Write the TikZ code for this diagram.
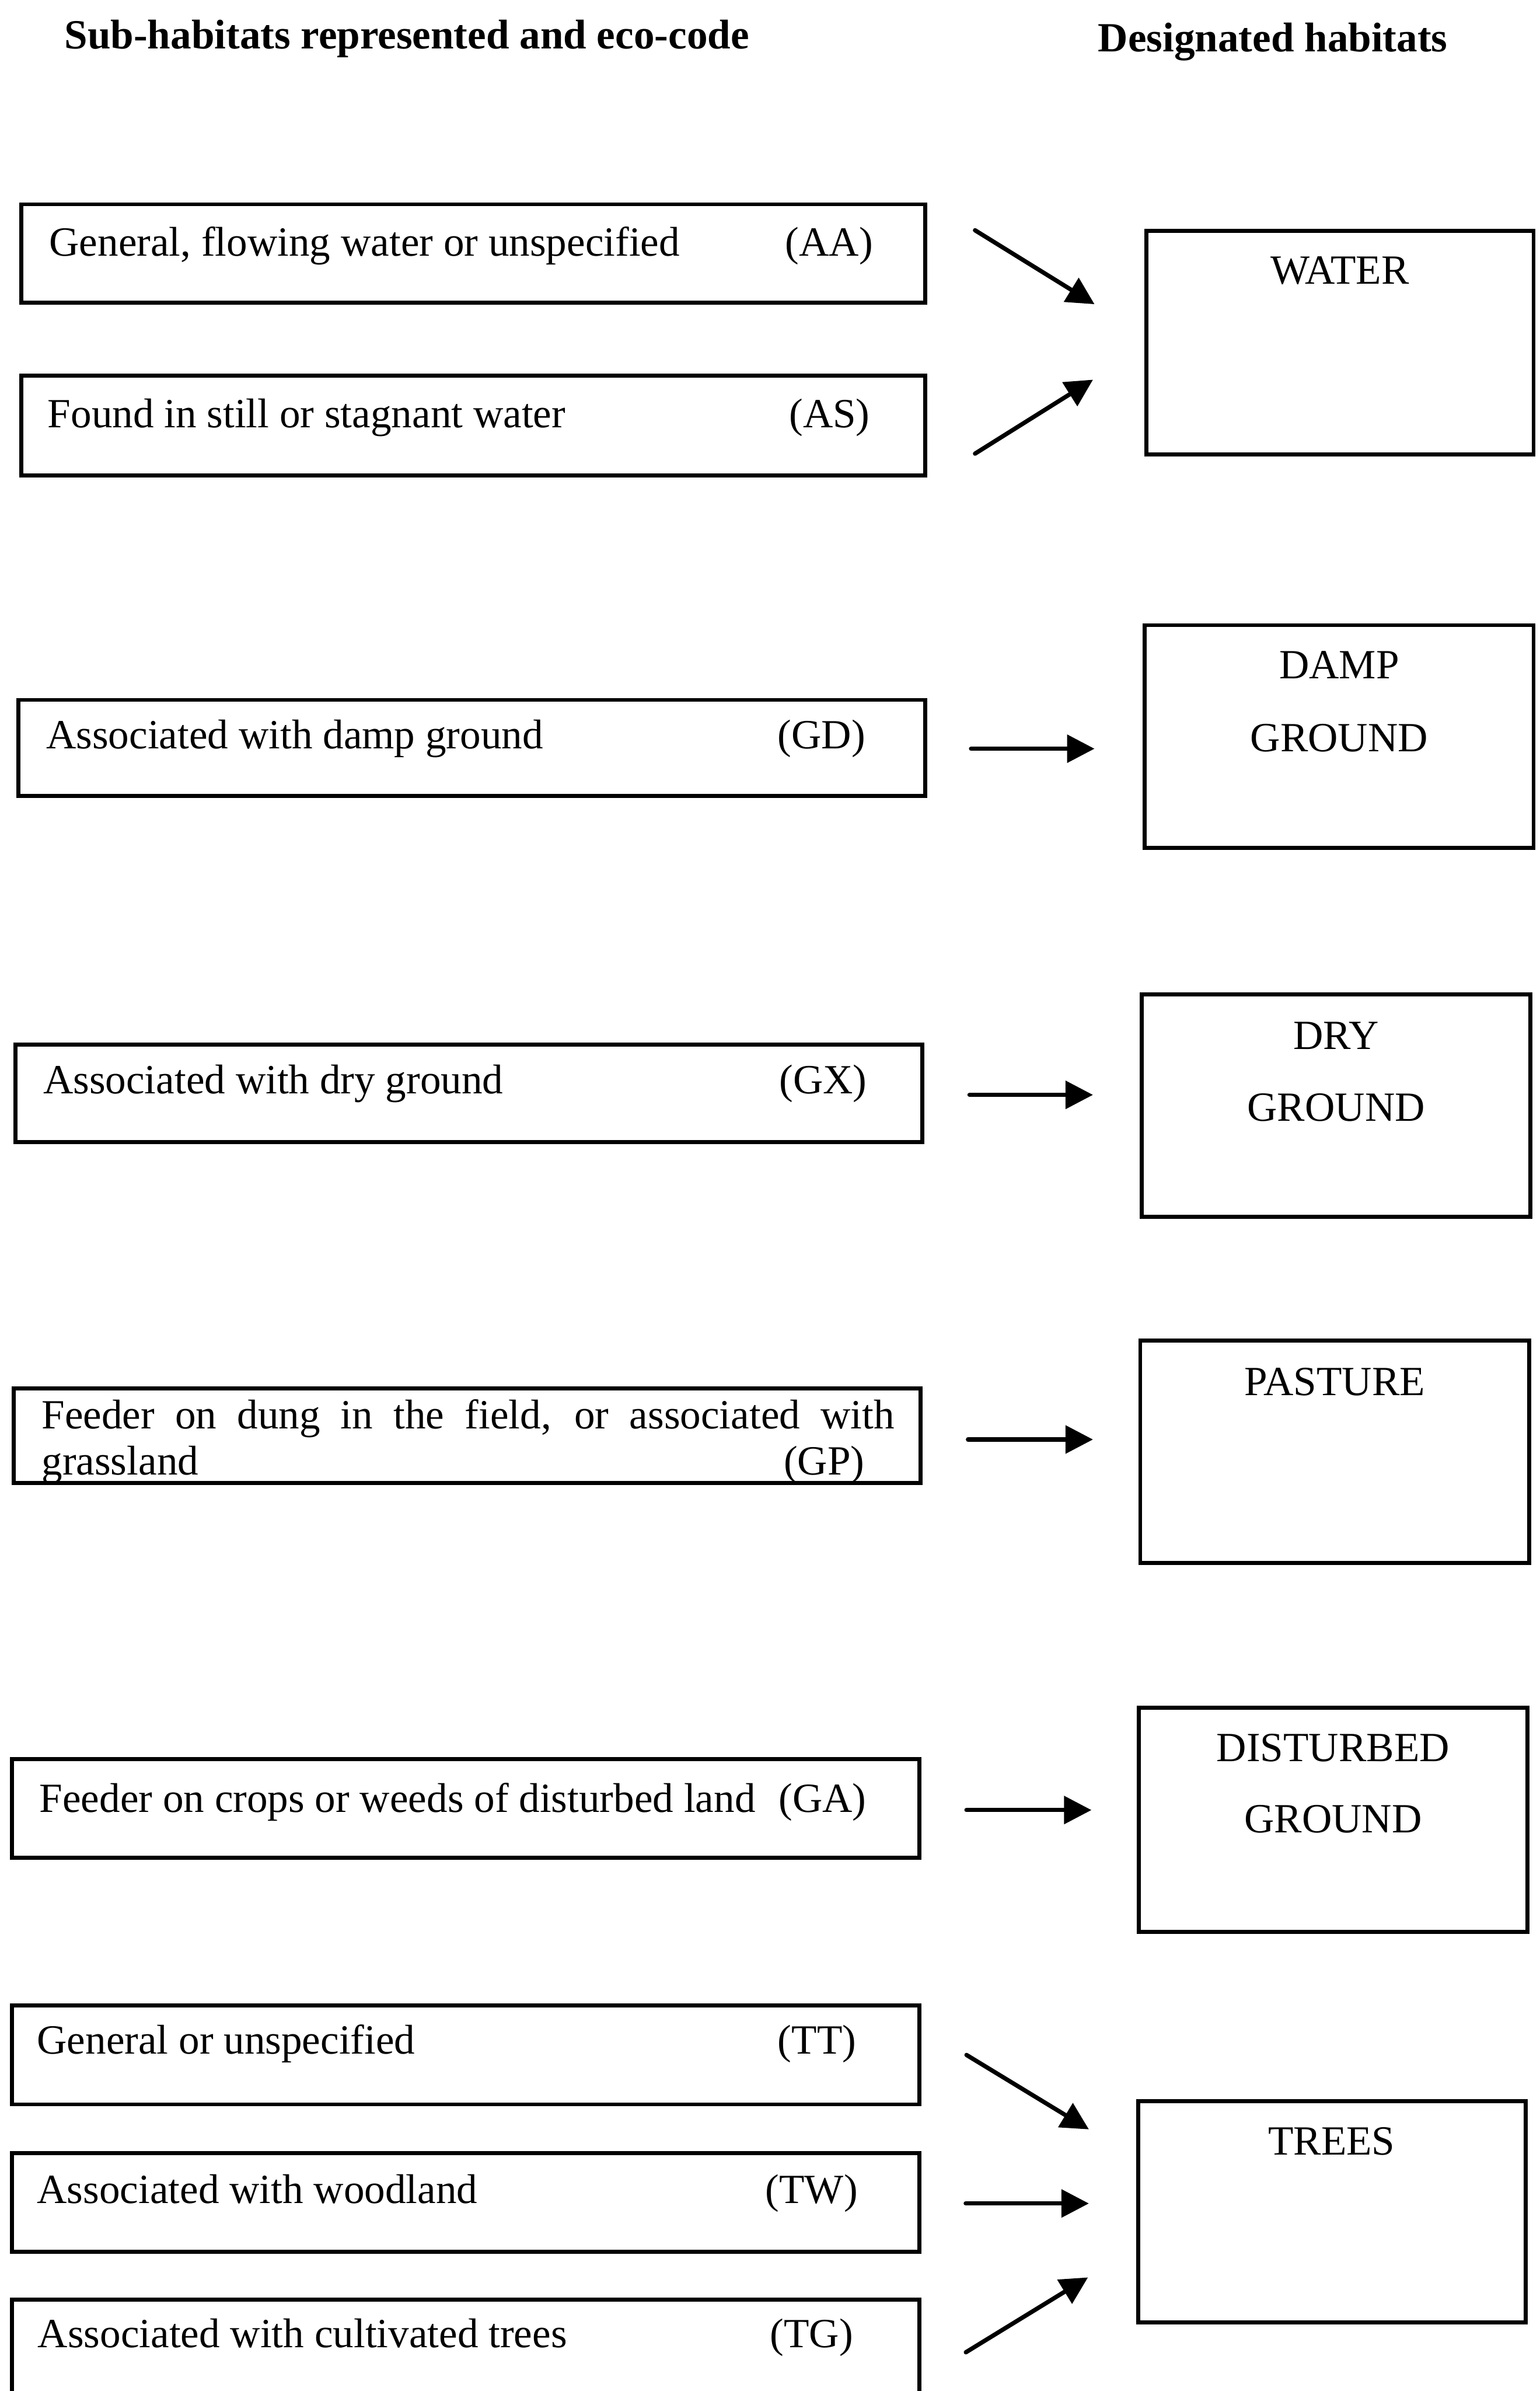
\documentclass[tikz,border=0pt]{standalone}
\usepackage{fontspec}
\setmainfont{Liberation Serif}
\usetikzlibrary{arrows.meta,fit}
\newcommand\fs{\fontsize{15.5}{18}\selectfont}
\begin{document}
\begin{tikzpicture}[x=0.02cm,y=-0.02cm,
  box/.style={draw, line width=1.5pt, inner sep=0pt},
  txt/.style={inner sep=0pt, font=\fs},
  hdr/.style={inner sep=0pt, font=\fs\bfseries, anchor=base west},
  lt/.style={txt, anchor=base west},
  code/.style={txt, anchor=base east},
  rt/.style={txt, anchor=base},
  arr/.style={line width=1.6pt, line cap=round, -{Triangle[length=0.36cm,width=0.36cm]}}]
\useasboundingbox (0,0) rectangle (1010,1568);

% headers
\node[hdr] (h1) at (42,32) {Sub-habitats represented and eco-code};
\node[hdr] (h2) at (720,34) {Designated habitats};

% left boxes
\node[box, fit={(14,134) (607,198.5)}] (aa) {};
\node[box, fit={(14,246.5) (607,311.7)}] (as) {};
\node[box, fit={(12,459) (607,522)}] (gd) {};
\node[box, fit={(10,685) (605,749)}] (gx) {};
\node[box, fit={(9,910.5) (604,972.6)}] (gp) {};
\node[box, fit={(8,1153.6) (603,1218.3)}] (ga) {};
\node[box, fit={(8,1315) (603,1380)}] (tt) {};
\node[box, fit={(8,1412) (603,1476.6)}] (tw) {};
\node[box, fit={(8,1508) (603,1571)}] (tg) {};

% left texts
\node[lt] (aat) at (32,168) {General, flowing water or unspecified};
\node[code] (aac) at (573,168) {(AA)};
\node[lt] (ast) at (31,280.5) {Found in still or stagnant water};
\node[code] (asc) at (571,280.5) {(AS)};
\node[lt] (gdt) at (30,491) {Associated with damp ground};
\node[code] (gdc) at (568,491) {(GD)};
\node[lt] (gxt) at (28,717) {Associated with dry ground};
\node[code] (gxc) at (569,717) {(GX)};
\node[lt] (gpt) at (27,937) {\makebox[11.19cm][s]{Feeder on dung in the field, or associated with}};
\node[lt] (gpt2) at (27,967) {grassland};
\node[code] (gpc) at (567.5,967) {(GP)};
\node[lt] (gat) at (25.6,1188.5) {Feeder on crops or weeds of disturbed land};
\node[code] (gac) at (568.7,1188.5) {(GA)};
\node[lt] (ttt) at (24,1347) {General or unspecified};
\node[code] (ttc) at (562,1347) {(TT)};
\node[lt] (twt) at (24,1445) {Associated with woodland};
\node[code] (twc) at (563,1445) {(TW)};
\node[lt] (tgt) at (24.5,1539.5) {Associated with cultivated trees};
\node[code] (tgc) at (560,1539.5) {(TG)};

% right boxes
\node[box, fit={(752,151.4) (1006,298)}] (water) {};
\node[box, fit={(751,410) (1006,556)}] (damp) {};
\node[box, fit={(749,652) (1004,798)}] (dry) {};
\node[box, fit={(748,879) (1003,1025)}] (pasture) {};
\node[box, fit={(747,1120) (1002,1267)}] (dist) {};
\node[box, fit={(746.6,1378) (1001,1523)}] (trees) {};

% right texts
\node[rt] (watert) at (879,186.3) {WATER};
\node[rt] (dampt1) at (878.5,445) {DAMP};
\node[rt] (dampt2) at (878.5,493) {GROUND};
\node[rt] (dryt1) at (876.5,688) {DRY};
\node[rt] (dryt2) at (876.5,735) {GROUND};
\node[rt] (pastt) at (875.5,915) {PASTURE};
\node[rt] (distt1) at (874.5,1155) {DISTURBED};
\node[rt] (distt2) at (874.5,1202) {GROUND};
\node[rt] (treest) at (873.5,1413.3) {TREES};

% arrows
\coordinate (aaS) at (639.6,151);
\coordinate (aaE) at (718,199.5);
\coordinate (asS) at (639.6,297.5);
\coordinate (asE) at (717,249);
\coordinate (gdS) at (637,491);
\coordinate (gdE) at (718,491);
\coordinate (gxS) at (636,718);
\coordinate (gxE) at (717,718);
\coordinate (gpS) at (635,944);
\coordinate (gpE) at (717,944);
\coordinate (gaS) at (634,1187);
\coordinate (gaE) at (716,1187);
\coordinate (ttS) at (634,1347.6);
\coordinate (ttE) at (714.3,1396.4);
\coordinate (twS) at (633.5,1445);
\coordinate (twE) at (714.3,1445);
\coordinate (tgS) at (633.6,1542.6);
\coordinate (tgE) at (713.7,1493.5);
\draw[arr] (aaS) -- (aaE);
\draw[arr] (asS) -- (asE);
\draw[arr] (gdS) -- (gdE);
\draw[arr] (gxS) -- (gxE);
\draw[arr] (gpS) -- (gpE);
\draw[arr] (gaS) -- (gaE);
\draw[arr] (ttS) -- (ttE);
\draw[arr] (twS) -- (twE);
\draw[arr] (tgS) -- (tgE);
\end{tikzpicture}
\end{document}
